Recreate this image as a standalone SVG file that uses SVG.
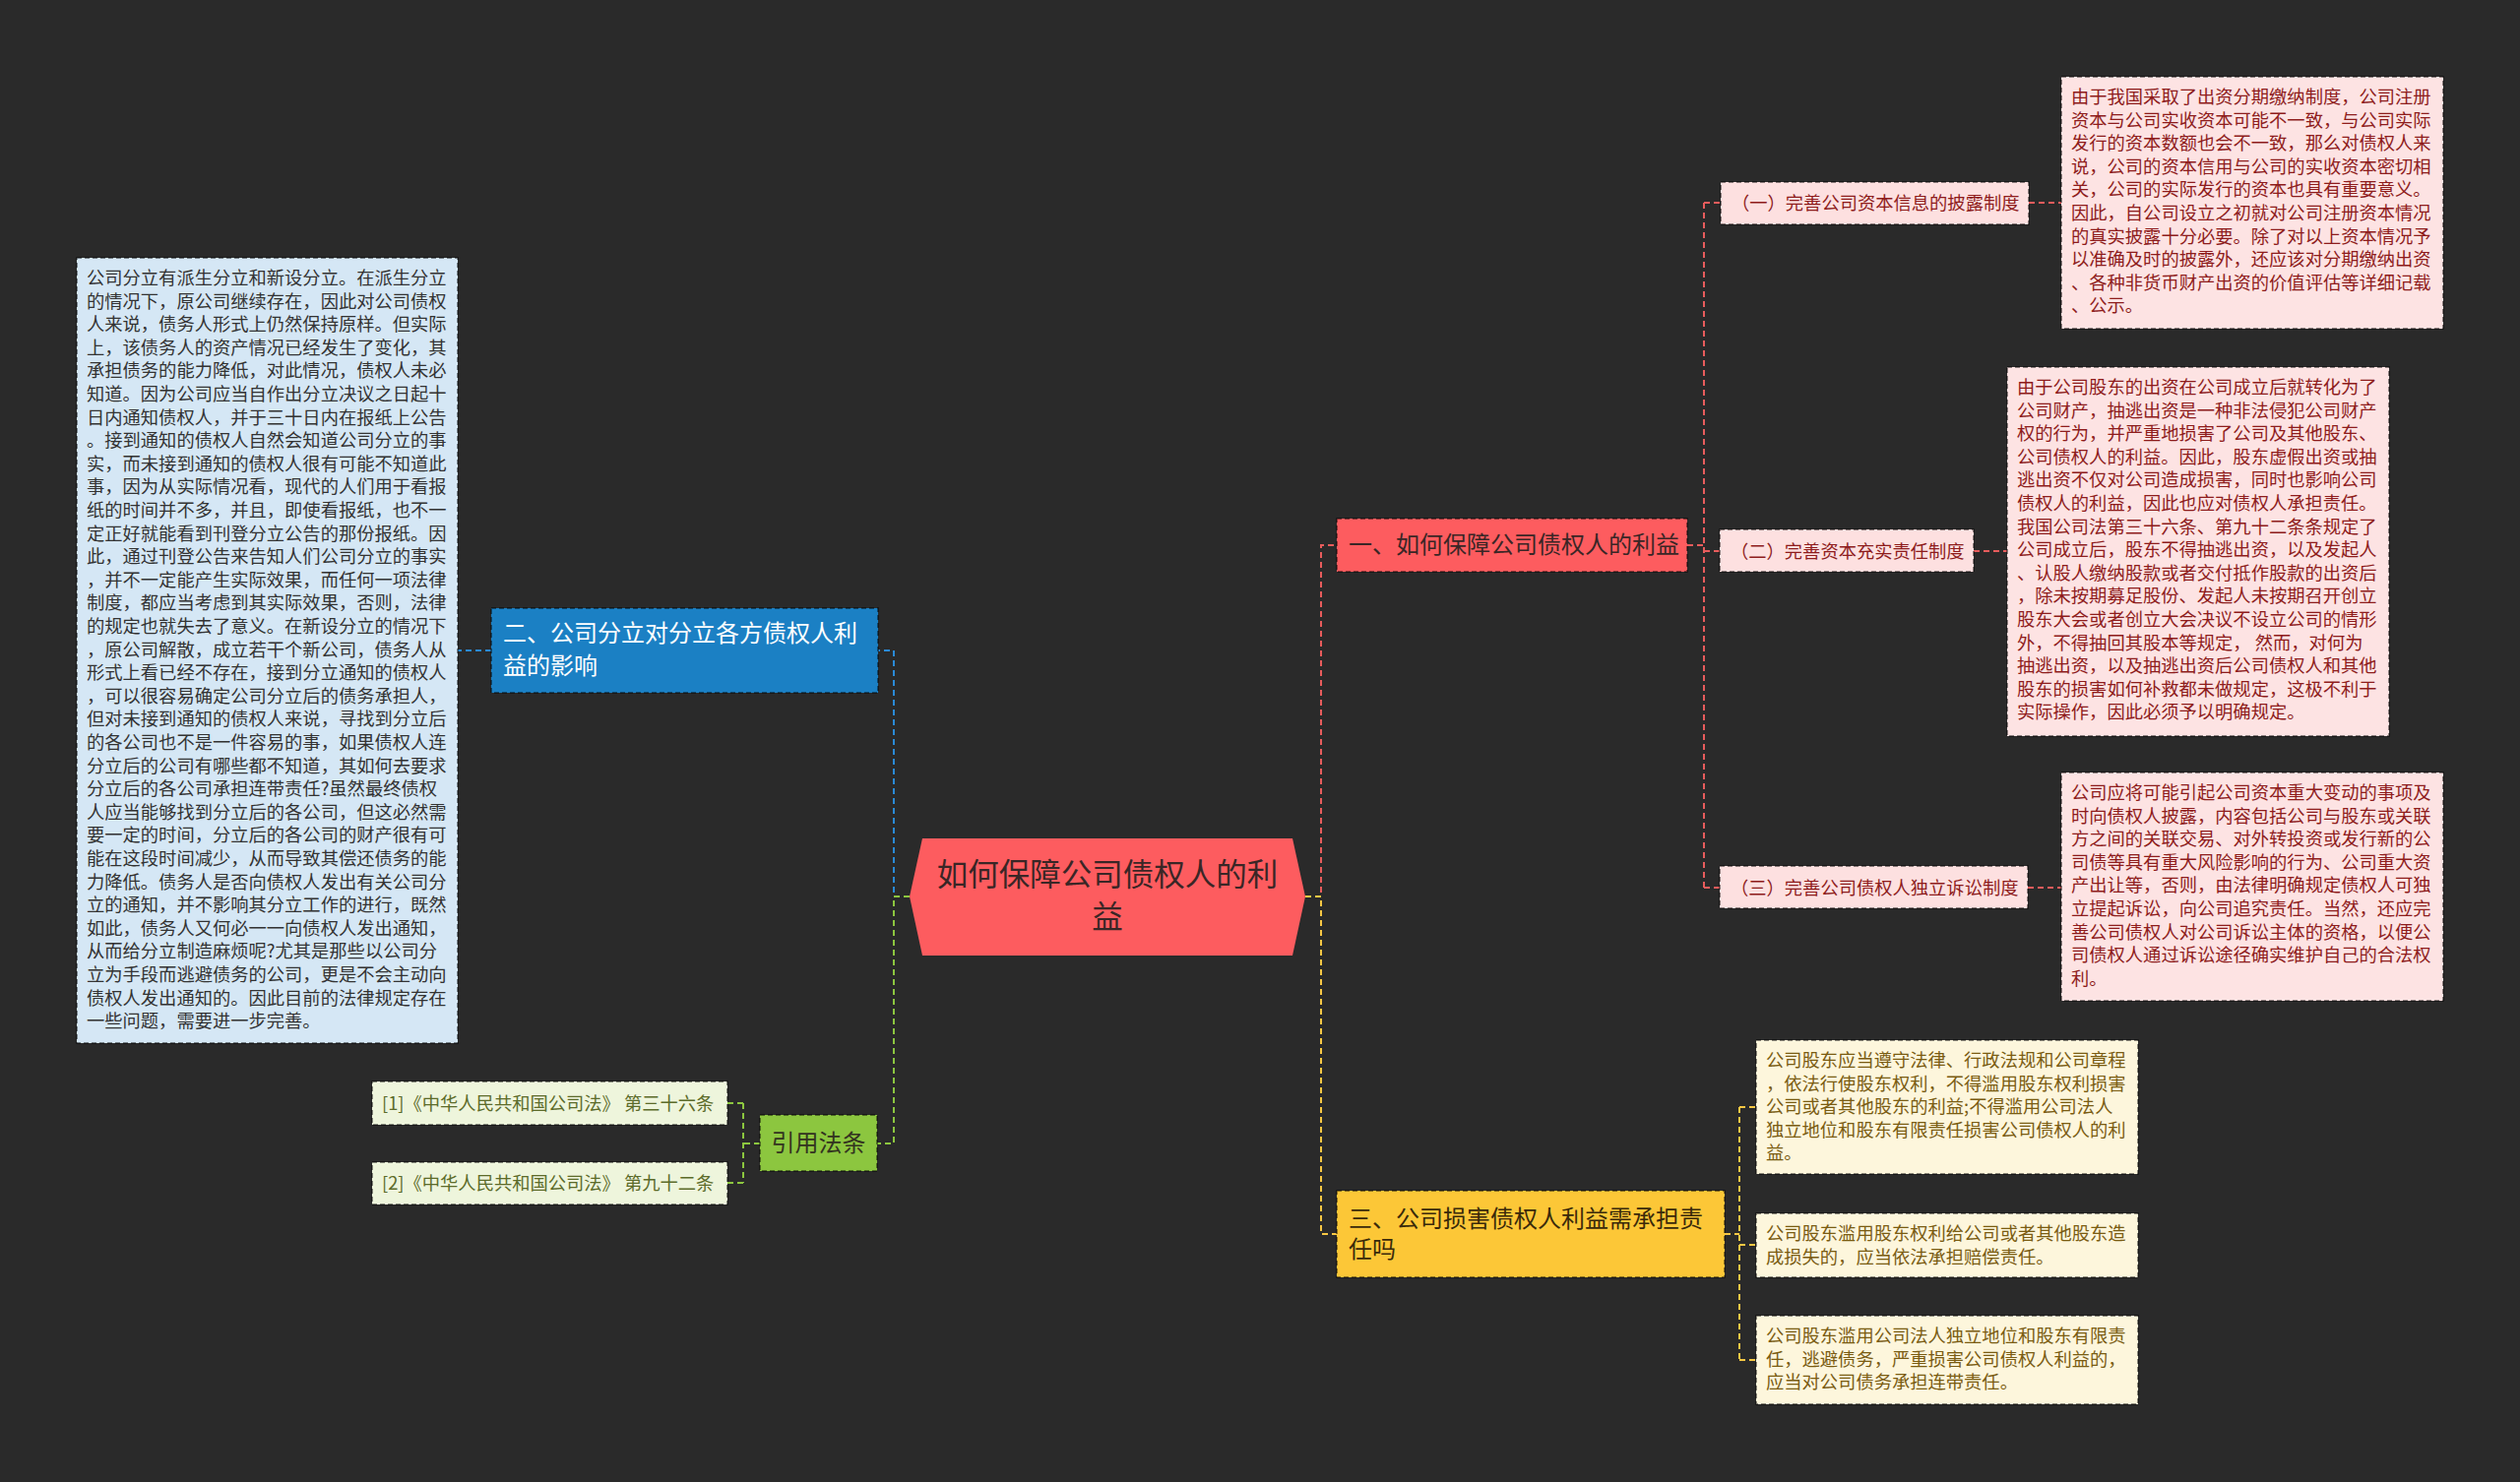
<svg xmlns="http://www.w3.org/2000/svg" width="2560" height="1506" viewBox="0 0 2560 1506">
<style>
text{font-family:"Noto Sans CJK SC","Microsoft YaHei",sans-serif;}
.bd{stroke:rgba(0,0,0,0.6);stroke-width:1.5;stroke-dasharray:5 3;}
.p{font-size:18.3px;}
.c{fill:none;stroke-width:2;stroke-dasharray:6 4;}
.cb{stroke:#2a8ad6;}
.cr{stroke:#e75c5c;}
.cg{stroke:#8cc63f;}
.cy{stroke:#f7c744;}
.rt{fill:#8e1c1c;}
.yt{fill:#7a5c12;}
.gt{fill:#5c6b2a;}
</style>
<rect width="2560" height="1506" fill="#2a2a2a"/>
<g id="connectors">
<path class="c cb" d="M924 911 H908 V661 H892"/>
<path class="c cb" d="M499 661 H465"/>
<path class="c cg" d="M924 911 H908 V1162 H891"/>
<path class="c cg" d="M772 1162 H755 M755 1121 V1202 M755 1121 H739 M755 1202 H739"/>
<path class="c cr" d="M1326 911 H1342 V554 H1358"/>
<path class="c cr" d="M1714 554 H1731 M1731 206 V902 M1731 206 H1748 M1731 560 H1747 M1731 902 H1747"/>
<path class="c cr" d="M2061 206 H2095 M2005 560 H2039 M2060 902 H2095"/>
<path class="c cy" d="M1326 911 H1342 V1254 H1358"/>
<path class="c cy" d="M1752 1254 H1767 M1767 1125 V1382 M1767 1125 H1784 M1767 1265 H1784 M1767 1382 H1784"/>
</g>
<g id="center">
<polygon points="937,852 1313,852 1326,911 1313,971 937,971 924,911" fill="#fd5c5f"/>
<text x="1125" y="900" font-size="31.5" fill="#3a2626" text-anchor="middle">如何保障公司债权人的利</text>
<text x="1125" y="943" font-size="31.5" fill="#3a2626" text-anchor="middle">益</text>
</g>
<g id="node-blue">
<rect class="bd" x="499" y="618" width="393" height="86" fill="#1b80c4"/>
<text x="511" y="652" font-size="24" fill="#ffffff">二、公司分立对分立各方债权人利</text>
<text x="511" y="685" font-size="24" fill="#ffffff">益的影响</text>
</g>
<g id="text-blue">
<rect class="bd" x="78" y="262" width="387" height="798" fill="#d5e7f5"/>
<text class="p" x="88" y="289" fill="#333333"><tspan x="88">公司分立有派生分立和新设分立。在派生分立</tspan><tspan x="88" dy="23.6">的情况下，原公司继续存在，因此对公司债权</tspan><tspan x="88" dy="23.6">人来说，债务人形式上仍然保持原样。但实际</tspan><tspan x="88" dy="23.6">上，该债务人的资产情况已经发生了变化，其</tspan><tspan x="88" dy="23.6">承担债务的能力降低，对此情况，债权人未必</tspan><tspan x="88" dy="23.6">知道。因为公司应当自作出分立决议之日起十</tspan><tspan x="88" dy="23.6">日内通知债权人，并于三十日内在报纸上公告</tspan><tspan x="88" dy="23.6">。接到通知的债权人自然会知道公司分立的事</tspan><tspan x="88" dy="23.6">实，而未接到通知的债权人很有可能不知道此</tspan><tspan x="88" dy="23.6">事，因为从实际情况看，现代的人们用于看报</tspan><tspan x="88" dy="23.6">纸的时间并不多，并且，即使看报纸，也不一</tspan><tspan x="88" dy="23.6">定正好就能看到刊登分立公告的那份报纸。因</tspan><tspan x="88" dy="23.6">此，通过刊登公告来告知人们公司分立的事实</tspan><tspan x="88" dy="23.6">，并不一定能产生实际效果，而任何一项法律</tspan><tspan x="88" dy="23.6">制度，都应当考虑到其实际效果，否则，法律</tspan><tspan x="88" dy="23.6">的规定也就失去了意义。在新设分立的情况下</tspan><tspan x="88" dy="23.6">，原公司解散，成立若干个新公司，债务人从</tspan><tspan x="88" dy="23.6">形式上看已经不存在，接到分立通知的债权人</tspan><tspan x="88" dy="23.6">，可以很容易确定公司分立后的债务承担人，</tspan><tspan x="88" dy="23.6">但对未接到通知的债权人来说，寻找到分立后</tspan><tspan x="88" dy="23.6">的各公司也不是一件容易的事，如果债权人连</tspan><tspan x="88" dy="23.6">分立后的公司有哪些都不知道，其如何去要求</tspan><tspan x="88" dy="23.6">分立后的各公司承担连带责任?虽然最终债权</tspan><tspan x="88" dy="23.6">人应当能够找到分立后的各公司，但这必然需</tspan><tspan x="88" dy="23.6">要一定的时间，分立后的各公司的财产很有可</tspan><tspan x="88" dy="23.6">能在这段时间减少，从而导致其偿还债务的能</tspan><tspan x="88" dy="23.6">力降低。债务人是否向债权人发出有关公司分</tspan><tspan x="88" dy="23.6">立的通知，并不影响其分立工作的进行，既然</tspan><tspan x="88" dy="23.6">如此，债务人又何必一一向债权人发出通知，</tspan><tspan x="88" dy="23.6">从而给分立制造麻烦呢?尤其是那些以公司分</tspan><tspan x="88" dy="23.6">立为手段而逃避债务的公司，更是不会主动向</tspan><tspan x="88" dy="23.6">债权人发出通知的。因此目前的法律规定存在</tspan><tspan x="88" dy="23.6">一些问题，需要进一步完善。</tspan></text>
</g>
<g id="node-green">
<rect class="bd" x="772" y="1133" width="119" height="57" fill="#8cc63f"/>
<text x="831.5" y="1170" font-size="24" fill="#333320" text-anchor="middle">引用法条</text>
</g>
<g id="law-1">
<rect class="bd" x="378" y="1099" width="361" height="44" fill="#eef5dc"/>
<text class="p gt" x="388" y="1128">[1]《中华人民共和国公司法》 第三十六条</text>
</g>
<g id="law-2">
<rect class="bd" x="378" y="1181" width="361" height="43" fill="#eef5dc"/>
<text class="p gt" x="388" y="1209">[2]《中华人民共和国公司法》 第九十二条</text>
</g>
<g id="node-red">
<rect class="bd" x="1358" y="527" width="356" height="54" fill="#fd5c5f"/>
<text x="1370" y="562" font-size="24" fill="#3a2626">一、如何保障公司债权人的利益</text>
</g>
<g id="label-1">
<rect class="bd" x="1748" y="185" width="313" height="43" fill="#fde0e0"/>
<text class="p rt" x="1759" y="213">（一）完善公司资本信息的披露制度</text>
</g>
<g id="label-2">
<rect class="bd" x="1747" y="538" width="258" height="43" fill="#fde0e0"/>
<text class="p rt" x="1758" y="567">（二）完善资本充实责任制度</text>
</g>
<g id="label-3">
<rect class="bd" x="1747" y="880" width="313" height="43" fill="#fde0e0"/>
<text class="p rt" x="1758" y="909">（三）完善公司债权人独立诉讼制度</text>
</g>
<g id="text-red-1">
<rect class="bd" x="2094" y="78" width="388" height="256" fill="#fde3e3"/>
<text class="p rt" x="2104" y="105"><tspan x="2104">由于我国采取了出资分期缴纳制度，公司注册</tspan><tspan x="2104" dy="23.6">资本与公司实收资本可能不一致，与公司实际</tspan><tspan x="2104" dy="23.6">发行的资本数额也会不一致，那么对债权人来</tspan><tspan x="2104" dy="23.6">说，公司的资本信用与公司的实收资本密切相</tspan><tspan x="2104" dy="23.6">关，公司的实际发行的资本也具有重要意义。</tspan><tspan x="2104" dy="23.6">因此，自公司设立之初就对公司注册资本情况</tspan><tspan x="2104" dy="23.6">的真实披露十分必要。除了对以上资本情况予</tspan><tspan x="2104" dy="23.6">以准确及时的披露外，还应该对分期缴纳出资</tspan><tspan x="2104" dy="23.6">、各种非货币财产出资的价值评估等详细记载</tspan><tspan x="2104" dy="23.6">、公示。</tspan></text>
</g>
<g id="text-red-2">
<rect class="bd" x="2039" y="373" width="388" height="375" fill="#fde3e3"/>
<text class="p rt" x="2049" y="400"><tspan x="2049">由于公司股东的出资在公司成立后就转化为了</tspan><tspan x="2049" dy="23.6">公司财产，抽逃出资是一种非法侵犯公司财产</tspan><tspan x="2049" dy="23.6">权的行为，并严重地损害了公司及其他股东、</tspan><tspan x="2049" dy="23.6">公司债权人的利益。因此，股东虚假出资或抽</tspan><tspan x="2049" dy="23.6">逃出资不仅对公司造成损害，同时也影响公司</tspan><tspan x="2049" dy="23.6">债权人的利益，因此也应对债权人承担责任。</tspan><tspan x="2049" dy="23.6">我国公司法第三十六条、第九十二条条规定了</tspan><tspan x="2049" dy="23.6">公司成立后，股东不得抽逃出资，以及发起人</tspan><tspan x="2049" dy="23.6">、认股人缴纳股款或者交付抵作股款的出资后</tspan><tspan x="2049" dy="23.6">，除未按期募足股份、发起人未按期召开创立</tspan><tspan x="2049" dy="23.6">股东大会或者创立大会决议不设立公司的情形</tspan><tspan x="2049" dy="23.6">外，不得抽回其股本等规定， 然而，对何为</tspan><tspan x="2049" dy="23.6">抽逃出资，以及抽逃出资后公司债权人和其他</tspan><tspan x="2049" dy="23.6">股东的损害如何补救都未做规定，这极不利于</tspan><tspan x="2049" dy="23.6">实际操作，因此必须予以明确规定。</tspan></text>
</g>
<g id="text-red-3">
<rect class="bd" x="2094" y="785" width="388" height="232" fill="#fde3e3"/>
<text class="p rt" x="2104" y="812"><tspan x="2104">公司应将可能引起公司资本重大变动的事项及</tspan><tspan x="2104" dy="23.6">时向债权人披露，内容包括公司与股东或关联</tspan><tspan x="2104" dy="23.6">方之间的关联交易、对外转投资或发行新的公</tspan><tspan x="2104" dy="23.6">司债等具有重大风险影响的行为、公司重大资</tspan><tspan x="2104" dy="23.6">产出让等，否则，由法律明确规定债权人可独</tspan><tspan x="2104" dy="23.6">立提起诉讼，向公司追究责任。当然，还应完</tspan><tspan x="2104" dy="23.6">善公司债权人对公司诉讼主体的资格，以便公</tspan><tspan x="2104" dy="23.6">司债权人通过诉讼途径确实维护自己的合法权</tspan><tspan x="2104" dy="23.6">利。</tspan></text>
</g>
<g id="node-yellow">
<rect class="bd" x="1358" y="1210" width="394" height="88" fill="#fcc737"/>
<text x="1370" y="1247" font-size="24" fill="#3a2a0a">三、公司损害债权人利益需承担责</text>
<text x="1370" y="1278" font-size="24" fill="#3a2a0a">任吗</text>
</g>
<g id="text-yellow-1">
<rect class="bd" x="1784" y="1057" width="388" height="136" fill="#fdf6dc"/>
<text class="p yt" x="1794" y="1084"><tspan x="1794">公司股东应当遵守法律、行政法规和公司章程</tspan><tspan x="1794" dy="23.6">，依法行使股东权利，不得滥用股东权利损害</tspan><tspan x="1794" dy="23.6">公司或者其他股东的利益;不得滥用公司法人</tspan><tspan x="1794" dy="23.6">独立地位和股东有限责任损害公司债权人的利</tspan><tspan x="1794" dy="23.6">益。</tspan></text>
</g>
<g id="text-yellow-2">
<rect class="bd" x="1784" y="1233" width="388" height="65" fill="#fdf6dc"/>
<text class="p yt" x="1794" y="1260"><tspan x="1794">公司股东滥用股东权利给公司或者其他股东造</tspan><tspan x="1794" dy="23.6">成损失的，应当依法承担赔偿责任。</tspan></text>
</g>
<g id="text-yellow-3">
<rect class="bd" x="1784" y="1337" width="388" height="90" fill="#fdf6dc"/>
<text class="p yt" x="1794" y="1364"><tspan x="1794">公司股东滥用公司法人独立地位和股东有限责</tspan><tspan x="1794" dy="23.6">任，逃避债务，严重损害公司债权人利益的，</tspan><tspan x="1794" dy="23.6">应当对公司债务承担连带责任。</tspan></text>
</g>
</svg>
